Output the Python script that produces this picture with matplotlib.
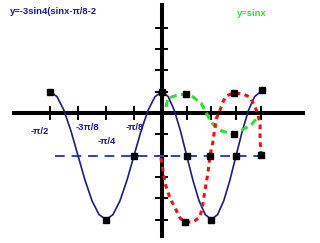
import numpy as np
import matplotlib
matplotlib.use("Agg")
import matplotlib.pyplot as plt

#%%--------------------Donnees (x en unites de pi/8)---------------------------
# courbe bleue y=-3sin4(x-pi/8)-2
blue_x = [-4, -3.75, -3.5, -3.25, -3, -2.75, -2.5, -2.25, -2, -1.75, -1.5, -1.25, -1,
          -0.75, -0.5, -0.25, 0, 0.25, 0.5, 0.75, 1, 1.25, 1.5, 1.75, 2, 2.25, 2.5,
          2.75, 3, 3.25, 3.5, 3.75, 4]
blue_y = [1, 0.77, 0.12, -0.85, -2, -3.15, -4.12, -4.77, -5, -4.77, -4.12, -3.15, -2,
          -0.85, 0.12, 0.77, 1, 0.77, 0.12, -0.85, -2, -3.15, -4.12, -4.77, -5, -4.77,
          -4.12, -3.15, -2, -0.85, 0.12, 0.77, 1]

# courbe verte (y=sinx, dessinee a la main)
green_x = [0.16, 0.24, 0.65, 0.97, 1.26, 1.58, 1.90, 2.06, 2.43, 2.91, 3.32, 3.64, 3.85]
green_y = [0.28, 0.70, 0.85, 0.89, 0.75, 0.47, -0.23, -0.52, -0.85, -0.99, -0.75, -0.52, -0.23]

# courbe rouge
red_x = [-0.04, 0.04, 0.12, 0.32, 0.53, 0.73, 0.93, 1.26, 1.54, 1.66, 1.74, 1.86, 1.94,
         2.06, 2.19, 2.35, 2.47, 2.59, 2.91, 3.28, 3.56, 3.77, 3.89, 3.97, 3.97, 4.01]
red_y = [-2.11, -2.68, -3.29, -3.99, -4.46, -4.93, -5.12, -5.12, -4.88, -4.23, -3.62,
         -2.82, -2.02, -1.36, -0.28, 0.14, 0.52, 0.80, 0.94, 0.89, 0.75, 0.28, -0.09,
         -0.56, -1.27, -1.97]

# ligne pointillee y=-2
dash_x = [-3.82, 4.05]
dash_y = [-2, -2]

# carres noirs
sq_x = [-4, -2, 0, 2, 4.05, -1, 1, 1.94, 3, 4.01, 0.97, 2.91, 0.93, 2.91]
sq_y = [1, -5, 1, -5, 1.1, -2, -2, -2.02, -2, -1.97, 0.89, -0.99, -5.12, 0.94]

xticks = [-4, -3, -2, -1, 1, 2, 3, 4]
yticks = [4, 3, 2, 1, -1, -2, -3, -4, -5]
tick_labels = ["-π/2", "-3π/8", "-π/4", "-π/8"]

navy = "#1c1c80"

#%%--------------------Figure---------------------------------------------------
fig = plt.figure(figsize=(3.2, 2.43), dpi=100)
ax = fig.add_axes([0, 0, 1, 1])
k = 28 / 24.7  # cote gauche plus etire
ax.set_xscale("function", functions=(lambda v: np.where(v < 0, v * k, v),
                                     lambda s: np.where(s < 0, s / k, s)))
ax.set_xlim(-5.786, 6.397)
ax.set_ylim(-6.103, 5.305)
ax.axis("off")

# axes
ax.plot([-5.36, 5.79], [0, 0], color="black", lw=2.9, solid_capstyle="butt", zorder=2)
ax.plot([0, 0], [5.16, -5.87], color="black", lw=2.9, solid_capstyle="butt", zorder=2)
for t in xticks:
    ax.plot([t, t], [0.28, -0.28], color="black", lw=1.4, zorder=2)
for t in yticks:
    ax.plot([-0.22, 0.22], [t, t], color="black", lw=1.4, zorder=2)

# courbes
ax.plot(dash_x, dash_y, color="#3040c0", lw=1.4, dashes=(5, 3.5), zorder=3)
ax.plot(blue_x, blue_y, color=navy, lw=1.2, zorder=4)
ax.plot(green_x, green_y, color="#33dd33", lw=2.2, dashes=(2.3, 1.4), zorder=4)
ax.plot(red_x, red_y, color="#ee1111", lw=2.2, dashes=(1.5, 1.4), zorder=4)
ax.plot(sq_x, sq_y, ls="none", marker="s", ms=4.3, color="black", zorder=5)

# textes
lab_dx = [-0.36, 0.32, 0.04, 0.04]
lab_y = [-0.85, -0.66, -1.36, -0.70]
for t, lab, dx, yy in zip(xticks[:4], tick_labels, lab_dx, lab_y):
    ax.text(t + dx, yy, lab, ha="center", va="center", fontsize=6.8,
            fontweight="bold", color=navy, family="Liberation Sans")

fig.text(10 / 320, 1 - 12 / 243, "y=-3sin4(sinx-π/8-2", ha="left", va="center",
         fontsize=6.8, fontweight="bold", color=navy, family="Liberation Sans")
fig.text(237 / 320, 1 - 14 / 243, "y=sinx", ha="left", va="center",
         fontsize=6.8, fontweight="bold", color="#33dd33", family="Liberation Sans")

fig.savefig("out.png", dpi=100, facecolor="white")
